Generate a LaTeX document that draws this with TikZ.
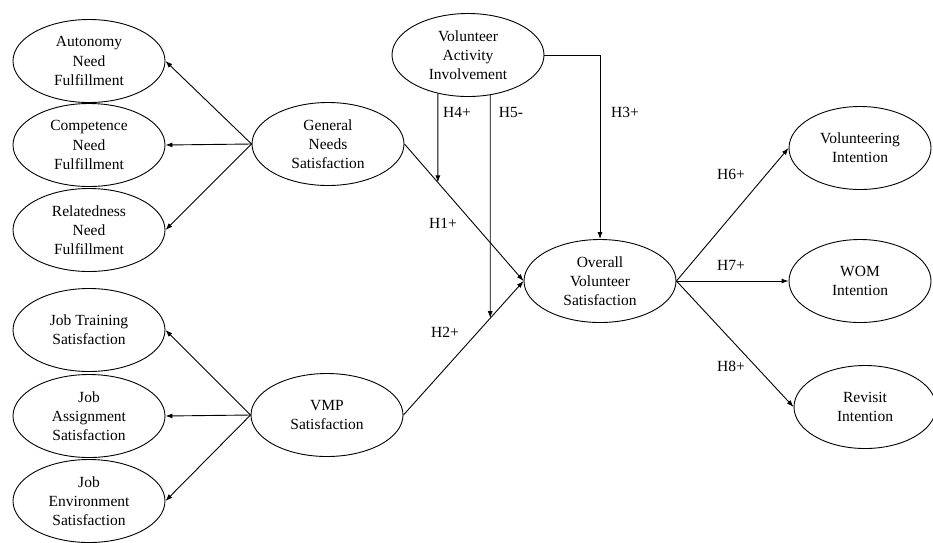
\documentclass[tikz,border=0pt]{standalone}
\usepackage{fontspec}
\setmainfont{Liberation Serif}
\usetikzlibrary{shapes.geometric,arrows.meta,calc}
\begin{document}
\begin{tikzpicture}[x=1pt,y=-1pt,
  font=\fontsize{15.5}{19.2}\selectfont,
  ell/.style={draw,line width=0.9pt,ellipse,inner sep=0pt,minimum width=152pt,minimum height=83pt,align=center},
  rell/.style={ell,minimum width=142pt},
  arr/.style={draw,line width=0.9pt,-{Latex[length=7pt,width=5pt]}},
  lbl/.style={inner sep=0pt}]
\useasboundingbox (0,0) rectangle (933,542);
% left group 1
\node[ell] (auto) at (89,61) {Autonomy\\Need\\Fulfillment};
\node[ell] (comp) at (89,145) {Competence\\Need\\Fulfillment};
\node[ell] (rel) at (89,230) {Relatedness\\Need\\Fulfillment};
% left group 2
\node[ell] (jt) at (89,330) {Job Training\\Satisfaction};
\node[ell] (ja) at (89,416) {Job\\Assignment\\Satisfaction};
\node[ell] (je) at (89,501) {Job\\Environment\\Satisfaction};
% middle
\node[ell] (gen) at (328,144) {General\\Needs\\Satisfaction};
\node[ell] (vmp) at (327,415) {VMP\\Satisfaction};
\node[ell] (vai) at (468,55) {Volunteer\\Activity\\Involvement};
\node[ell] (ovs) at (600,281) {Overall\\Volunteer\\Satisfaction};
% right
\node[rell] (vi) at (860,148) {Volunteering\\Intention};
\node[rell] (wom) at (860,281) {WOM\\Intention};
\node[rell] (rev) at (865,407) {Revisit\\Intention};
% arrows to indicators
\foreach \t in {auto,comp,rel} \draw[arr] (gen.west) -- (\t.east);
\foreach \t in {jt,ja,je} \draw[arr] (vmp.west) -- (\t.east);
% main paths
\draw[arr] (gen.east) -- (ovs.west);
\draw[arr] (vmp.east) -- (ovs.west);
\draw[arr] (vai.east) -| (ovs.north);
% moderation
\coordinate (h4a) at (vai.232);
\coordinate (h4b) at ([yshift=-10pt]h4a);
\coordinate (h4e) at (intersection of gen.east--ovs.west and h4a--h4b);
\draw[arr] (h4a) -- (h4e);
\coordinate (h5a) at (vai.299);
\coordinate (h5b) at ([yshift=-10pt]h5a);
\coordinate (h5e) at (intersection of vmp.east--ovs.west and h5a--h5b);
\draw[arr] (h5a) -- (h5e);
% outcomes
\draw[arr] (ovs.east) -- (vi.west);
\draw[arr] (ovs.east) -- (wom.west);
\draw[arr] (ovs.east) -- (rev.west);
% labels
\node[lbl] (l4) at (457,112) {H4+};
\node[lbl] (l5) at (511,112) {H5-};
\node[lbl] (l3) at (625,112) {H3+};
\node[lbl] (l1) at (443,223) {H1+};
\node[lbl] (l2) at (445,332) {H2+};
\node[lbl] (l6) at (731,174) {H6+};
\node[lbl] (l7) at (731,265) {H7+};
\node[lbl] (l8) at (731,366) {H8+};
\end{tikzpicture}
\end{document}
